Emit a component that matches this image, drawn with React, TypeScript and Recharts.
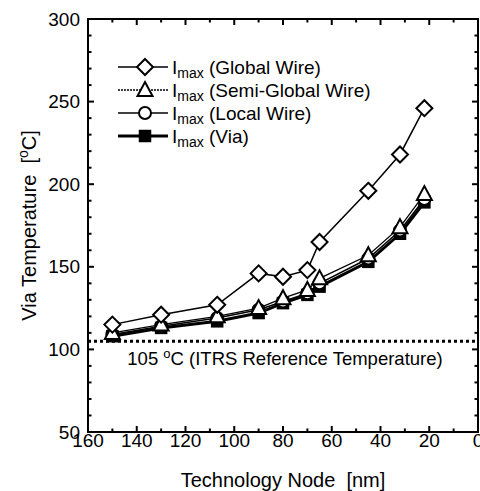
import React from "react";
import { LineChart, Line, XAxis, YAxis, ReferenceLine } from "recharts";

// technology nodes (nm) and via temperature (°C) per current limit
const nodes = [150, 130, 107, 90, 80, 70, 65, 45, 32, 22];
const globalWire = [115, 121, 127, 146, 144, 148, 165, 196, 218, 246];
const semiGlobalWire = [110, 115, 120, 125, 131, 136, 143, 157, 174, 194];
const localWire = [109, 114, 119, 124, 129, 134, 140, 155, 172, 191];
const viaLimit = [108, 113, 117, 122, 128, 133, 138, 153, 170, 189];

const seriesNames = ["Global Wire", "Semi-Global Wire", "Local Wire", "Via"];
const xTicks = [0, 10, 20, 30, 40, 50, 60, 70, 80, 90, 100, 110, 120, 130, 140, 150, 160];
const yTicks = [50, 60, 70, 80, 90, 100, 110, 120, 130, 140, 150, 160, 170, 180, 190, 200, 210, 220, 230, 240, 250, 260, 270, 280, 290, 300];
const xLabels = [0, 20, 40, 60, 80, 100, 120, 140, 160];
const yLabels = [50, 100, 150, 200, 250, 300];
const itrsTemp = 105;

const data = nodes.map((n, i) => ({
  node: n,
  global: globalWire[i],
  semi: semiGlobalWire[i],
  local: localWire[i],
  via: viaLimit[i],
}));

const FONT = "'Liberation Sans', Arial, sans-serif";
const W = 480;
const H = 491;
const PLOT_LEFT = 88;
const PLOT_RIGHT = 478;
const PLOT_TOP = 19;
const PLOT_BOTTOM = 432;
const X_MIN = 0, X_MAX = 160, Y_MIN = 50, Y_MAX = 300;

const markerKind = ["diamond", "triangle", "circle", "square"];
const lineWidth = [1.5, 1.3, 1.5, 3];

// same mapping the chart uses (x axis reversed), only for the frame ticks
const px = (t: number) => PLOT_LEFT + ((X_MAX - t) / (X_MAX - X_MIN)) * (PLOT_RIGHT - PLOT_LEFT);
const py = (v: number) => PLOT_BOTTOM - ((v - Y_MIN) / (Y_MAX - Y_MIN)) * (PLOT_BOTTOM - PLOT_TOP);

function marker(kind: string, cx: number, cy: number, key?: any) {
  if (kind === "diamond") {
    return (
      <path key={key} d={`M${cx},${cy - 8} L${cx + 8},${cy} L${cx},${cy + 8} L${cx - 8},${cy} Z`}
        fill="#fff" stroke="#000" strokeWidth={2} />
    );
  }
  if (kind === "triangle") {
    return (
      <path key={key} d={`M${cx},${cy - 8} L${cx + 7.5},${cy + 6} L${cx - 7.5},${cy + 6} Z`}
        fill="#fff" stroke="#000" strokeWidth={2} />
    );
  }
  if (kind === "circle") {
    return <circle key={key} cx={cx} cy={cy} r={6} fill="#fff" stroke="#000" strokeWidth={2} />;
  }
  return <rect key={key} x={cx - 5.5} y={cy - 5.5} width={11} height={11} fill="#000" stroke="#000" strokeWidth={1.5} />;
}

const bottomLabel = (p: any) => (
  <text x={p.x} y={p.y + 15} textAnchor="middle" fontSize={19} fontFamily={FONT} fill="#000">
    {p.payload.value}
  </text>
);

const leftLabel = (p: any) => (
  <text x={p.x - 8} y={p.y} dy="0.35em" textAnchor="end" fontSize={19} fontFamily={FONT} fill="#000">
    {p.payload.value}
  </text>
);

function YTitle() {
  const cx = 29;
  const cy = (PLOT_TOP + PLOT_BOTTOM) / 2;
  return (
    <text x={cx} y={cy} transform={`rotate(-90 ${cx} ${cy})`} textAnchor="middle" dy="0.35em"
      fontSize={20} fontFamily={FONT} fill="#000" xmlSpace="preserve" style={{ whiteSpace: "pre" }}>
      Via Temperature  [<tspan dy={-8} fontSize={14}>o</tspan><tspan dy={8}>C]</tspan>
    </text>
  );
}

function XTitle() {
  return (
    <text x={283} y={487} textAnchor="middle" fontSize={20} fontFamily={FONT} fill="#000"
      xmlSpace="preserve" style={{ whiteSpace: "pre" }}>
      Technology Node  [nm]
    </text>
  );
}

function RefLabel(props: any) {
  const vb = props.viewBox;
  return (
    <text x={vb.x + vb.width / 2 + 2} y={vb.y + 24} textAnchor="middle" fontSize={18.5} fontFamily={FONT} fill="#000">
      {itrsTemp} <tspan dy={-7} fontSize={13}>o</tspan><tspan dy={7}>C (ITRS Reference Temperature)</tspan>
    </text>
  );
}

// box and inward ticks on all four sides
function Frame() {
  const len = (major: boolean) => (major ? 6 : 3.5);
  return (
    <svg width={W} height={H} style={{ position: "absolute", left: 0, top: 0, pointerEvents: "none" }}>
      <rect x={PLOT_LEFT} y={PLOT_TOP} width={PLOT_RIGHT - PLOT_LEFT} height={PLOT_BOTTOM - PLOT_TOP}
        fill="none" stroke="#000" strokeWidth={2} />
      {xTicks.map((t) => {
        const l = len(t % 20 === 0);
        const x = px(t);
        return (
          <g key={`x${t}`}>
            <line x1={x} x2={x} y1={PLOT_BOTTOM} y2={PLOT_BOTTOM - l} stroke="#000" strokeWidth={2} />
            <line x1={x} x2={x} y1={PLOT_TOP} y2={PLOT_TOP + l} stroke="#000" strokeWidth={2} />
          </g>
        );
      })}
      {yTicks.map((v) => {
        const l = len(v % 50 === 0);
        const y = py(v);
        return (
          <g key={`y${v}`}>
            <line x1={PLOT_LEFT} x2={PLOT_LEFT + l} y1={y} y2={y} stroke="#000" strokeWidth={2} />
            <line x1={PLOT_RIGHT} x2={PLOT_RIGHT - l} y1={y} y2={y} stroke="#000" strokeWidth={2} />
          </g>
        );
      })}
    </svg>
  );
}

function LegendBox() {
  return (
    <svg width={300} height={100} style={{ position: "absolute", left: 110, top: 50, overflow: "visible" }}>
      {seriesNames.map((name, i) => {
        const cy = 17 + i * 23;
        return (
          <g key={name}>
            <line x1={8} x2={58} y1={cy} y2={cy} stroke="#000" strokeWidth={lineWidth[i]}
              strokeDasharray={i === 1 ? "2 1" : undefined} />
            {marker(markerKind[i], 35, cy)}
            <text x={62} y={cy + 7} fontSize={19} fontFamily={FONT} fill="#000">
              I<tspan dy={4} fontSize={14}>max</tspan>
              <tspan dy={-4}> ({name})</tspan>
            </text>
          </g>
        );
      })}
    </svg>
  );
}

export default function App() {
  return (
    <div style={{ position: "absolute", left: 0, top: 0, width: W, height: H, background: "#fff" }}>
      <LineChart width={W} height={H} data={data}
        margin={{ top: PLOT_TOP, right: W - PLOT_RIGHT, left: 0, bottom: 0 }}>
        <XAxis dataKey="node" type="number" domain={[X_MIN, X_MAX]} reversed ticks={xLabels} interval={0}
          height={H - PLOT_BOTTOM} stroke="#000" strokeWidth={2} tickLine={false} tickSize={0} tickMargin={0}
          tick={bottomLabel} label={<XTitle />} />
        <YAxis type="number" domain={[Y_MIN, Y_MAX]} ticks={yLabels} interval={0} width={PLOT_LEFT}
          stroke="#000" strokeWidth={2} tickLine={false} tickSize={0} tickMargin={0} tick={leftLabel}
          label={<YTitle />} />
        <ReferenceLine y={itrsTemp} stroke="#000" strokeWidth={3} strokeDasharray="3 3" label={<RefLabel />} />
        <Line dataKey="via" name="Via" stroke="#000" strokeWidth={3} isAnimationActive={false}
          dot={(p: any) => marker("square", p.cx, p.cy, `v${p.index}`)} />
        <Line dataKey="local" name="Local Wire" stroke="#000" strokeWidth={1.5} isAnimationActive={false}
          dot={(p: any) => marker("circle", p.cx, p.cy, `l${p.index}`)} />
        <Line dataKey="semi" name="Semi-Global Wire" stroke="#000" strokeWidth={1.3} isAnimationActive={false}
          dot={(p: any) => marker("triangle", p.cx, p.cy, `s${p.index}`)} />
        <Line dataKey="global" name="Global Wire" stroke="#000" strokeWidth={1.5} isAnimationActive={false}
          dot={(p: any) => marker("diamond", p.cx, p.cy, `g${p.index}`)} />
      </LineChart>
      <Frame />
      <LegendBox />
    </div>
  );
}
